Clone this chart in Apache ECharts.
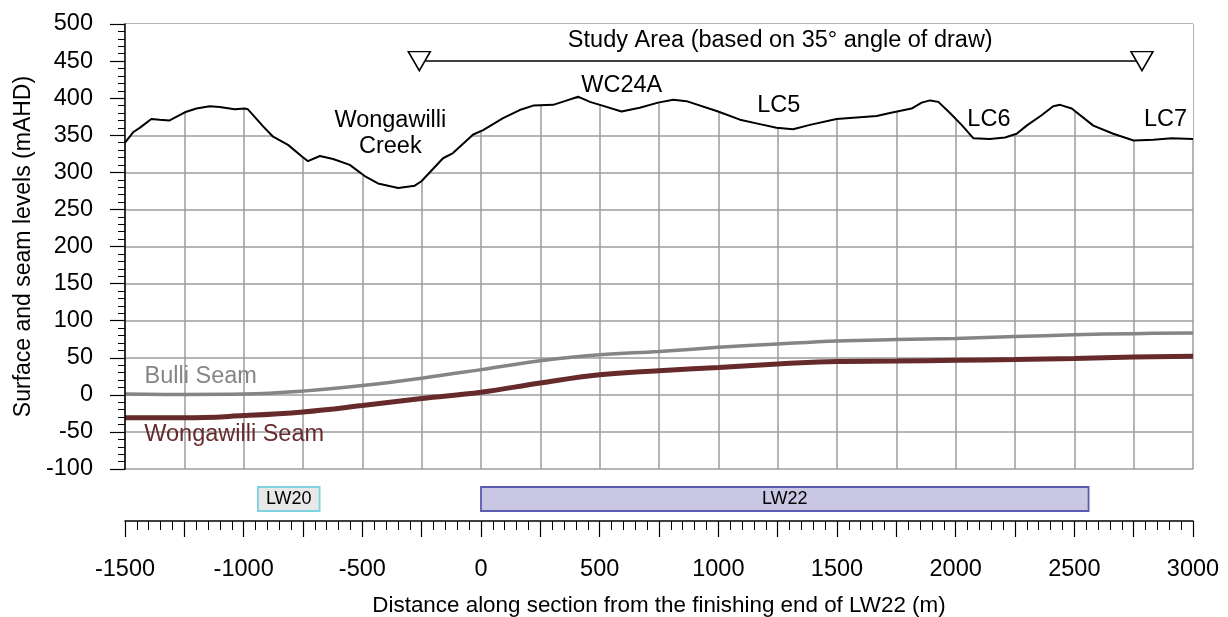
<!DOCTYPE html>
<html>
<head>
<meta charset="utf-8">
<script src="https://cdn.jsdelivr.net/npm/echarts@6/dist/echarts.min.js"></script>
<style>
  html, body { margin: 0; padding: 0; background: #fff; }
  #chart { width: 1228px; height: 617px; }
</style>
</head>
<body>
<div id="chart"></div>
<script>
// Surface profile along the section (distance in m, level in mAHD)
const terrainDist = [-1500, -1466, -1438, -1389, -1354, -1312, -1248, -1199, -1143, -1101, -1038, -996, -982,
  -918, -876, -813, -757, -729, -679, -623, -553, -490, -434, -349, -279, -251, -160, -118, -33, 9, 93, 163,
  220, 304, 353, 409, 459, 501, 592, 669, 746, 810, 866, 999, 1091, 1175, 1245, 1315, 1386, 1498, 1667, 1723,
  1814, 1857, 1892, 1927, 1976, 2025, 2074, 2144, 2208, 2257, 2299, 2362, 2411, 2440, 2489, 2580, 2664, 2750,
  2833, 2910, 3000];
const terrainLevel = [340, 354, 360, 372, 371, 370, 381, 386, 389, 388, 385, 386, 385,
  362, 348, 337, 322, 315, 322, 318, 310, 295, 285, 279, 282, 288, 319, 326, 351, 357, 373, 384,
  390, 391, 396, 402, 395, 391, 382, 387, 394, 398, 396, 382, 371, 365, 360, 358, 364, 372, 376, 380,
  386, 394, 397, 395, 380, 364, 346, 345, 347, 352, 363, 377, 389, 391, 386, 363, 352, 343,
  344, 346, 345];

// Seam floor levels
const seamDist = [-1500, -1250, -1000, -750, -500, -250, 0, 250, 500, 750, 1000, 1250, 1500, 1750, 2000, 2250, 2500, 2750, 3000];
const bulliLevel = [1, 0.5, 1, 5, 12.5, 22.5, 34, 46, 54, 58.5, 64, 68.5, 72.5, 74.5, 76, 78.5, 81, 82.5, 83.5];
const wongawilliLevel = [-31, -31, -28, -23, -14.5, -5, 3.5, 16, 27, 32.5, 37, 41.5, 45, 45.5, 46.5, 47.5, 49, 51, 52];

// Study area limits (35 degree angle of draw) and its level on the chart
const studyAreaDist = [-260, 2785];
const studyAreaLevel = 450;

// Longwall panels: [start, end, name]
const panels = [[-940, -680, 'LW20'], [0, 2560, 'LW22']];

// Feature labels: [distance, level, text]
const featureLabels = [
  [-382, 353, 'Wongawilli\nCreek'],
  [593, 417, 'WC24A'],
  [1255, 389.5, 'LC5'],
  [2140, 371.5, 'LC6'],
  [2884, 371.5, 'LC7'],
  [1261, 478, 'Study Area (based on 35° angle of draw)']
];
const seamLabels = [
  [-1181, 25, 'Bulli Seam'],
  [-1040, -53.5, 'Wongawilli Seam']
];

const zip = (xs, ys) => xs.map((x, i) => [x, ys[i]]);
const FONT = "'Liberation Sans', Arial, sans-serif";

const panelStyles = {
  LW20: { fill: '#e8e8e8', stroke: '#7fd2df' },
  LW22: { fill: '#c9c7e4', stroke: '#5a5bb0' }
};
const seamColors = { 'Bulli Seam': '#858585', 'Wongawilli Seam': '#662a2a' };

const chart = echarts.init(document.getElementById('chart'), null, { renderer: 'canvas' });

chart.setOption({
  animation: false,
  backgroundColor: '#fff',
  textStyle: { fontFamily: FONT },
  grid: [
    { left: 125, top: 24, width: 1068, height: 445, outerBoundsMode: 'none', containLabel: false },
    { left: 125, top: 487, width: 1068, height: 34, outerBoundsMode: 'none', containLabel: false }
  ],
  xAxis: [
    { // vertical grid lines
      gridIndex: 0, type: 'value', min: -1500, max: 3000, interval: 250, z: 0,
      axisLine: { show: false }, axisTick: { show: false }, axisLabel: { show: false },
      splitLine: { show: true, lineStyle: { color: '#9c9c9c', width: 1.5 } }
    },
    { // distance scale under the panels
      gridIndex: 1, type: 'value', min: -1500, max: 3000, interval: 250, position: 'bottom',
      axisLine: { show: true, lineStyle: { color: '#000', width: 1.5 } },
      axisTick: { show: true, length: 16, lineStyle: { color: '#000', width: 1.2 } },
      minorTick: { show: true, splitNumber: 5, length: 9, lineStyle: { color: '#000', width: 1 } },
      splitLine: { show: false },
      axisLabel: {
        color: '#000', fontSize: 23.5, fontFamily: FONT, margin: 37,
        formatter: v => (v % 500 === 0 ? String(v) : '')
      },
      name: 'Distance along section from the finishing end of LW22 (m)',
      nameLocation: 'middle', nameGap: 74,
      nameTextStyle: { color: '#000', fontSize: 22.4, fontFamily: FONT }
    }
  ],
  yAxis: [
    { // horizontal grid lines
      gridIndex: 0, type: 'value', min: -100, max: 500, interval: 50, z: 0,
      axisLine: { show: false }, axisTick: { show: false }, axisLabel: { show: false },
      splitLine: { show: true, lineStyle: { color: '#9c9c9c', width: 1.5 } }
    },
    { // level axis with ticks and labels, kept above the surface mask
      gridIndex: 0, type: 'value', position: 'left', offset: 0,
      min: -100, max: 500, interval: 50, z: 10,
      axisLine: { show: true, onZero: false, lineStyle: { color: '#000', width: 1.5 } },
      axisTick: { show: true, length: 15, lineStyle: { color: '#000', width: 1.2 } },
      minorTick: { show: true, splitNumber: 5, length: 7, lineStyle: { color: '#000', width: 1 } },
      splitLine: { show: false },
      axisLabel: { color: '#000', fontSize: 23.5, fontFamily: FONT, margin: 32 },
      name: 'Surface and seam levels (mAHD)',
      nameLocation: 'middle', nameGap: 84,
      nameTextStyle: { color: '#000', fontSize: 23, fontFamily: FONT }
    },
    { gridIndex: 1, type: 'value', min: 0, max: 1, show: false }
  ],
  series: [
    { // ground surface; white fill above it hides the grid
      name: 'Surface', type: 'line', xAxisIndex: 0, yAxisIndex: 0,
      data: zip(terrainDist, terrainLevel),
      showSymbol: false, symbol: 'none', smooth: false,
      lineStyle: { color: '#000', width: 2 },
      areaStyle: { color: '#fff', opacity: 1, origin: 'end' },
      z: 2
    },
    {
      name: 'Bulli Seam', type: 'line', xAxisIndex: 0, yAxisIndex: 0,
      data: zip(seamDist, bulliLevel), symbol: 'none', smooth: 0.4,
      lineStyle: { color: seamColors['Bulli Seam'], width: 3.5 }, z: 3
    },
    {
      name: 'Wongawilli Seam', type: 'line', xAxisIndex: 0, yAxisIndex: 0,
      data: zip(seamDist, wongawilliLevel), symbol: 'none', smooth: 0.4,
      lineStyle: { color: seamColors['Wongawilli Seam'], width: 5 }, z: 3
    },
    { // study area extent with end markers
      name: 'Study Area', type: 'line', xAxisIndex: 0, yAxisIndex: 0,
      data: studyAreaDist.map(d => [d, studyAreaLevel]),
      symbol: 'triangle', symbolRotate: 180, symbolSize: [22, 19], showSymbol: true,
      itemStyle: { color: '#fff', borderColor: '#000', borderWidth: 1.5 },
      lineStyle: { color: '#000', width: 1.5 }, z: 4
    },
    { // feature names
      type: 'scatter', xAxisIndex: 0, yAxisIndex: 0, z: 5,
      data: featureLabels.map(f => ({ value: [f[0], f[1]], name: f[2] })),
      symbolSize: 0, itemStyle: { color: '#000' },
      label: {
        show: true, position: 'inside', formatter: p => p.name,
        color: '#000', opacity: 1, fontSize: 23.5, fontFamily: FONT, lineHeight: 26, align: 'center',
        textBorderWidth: 0
      }
    },
    { // seam names
      type: 'scatter', xAxisIndex: 0, yAxisIndex: 0, z: 5,
      data: seamLabels.map(f => ({
        value: [f[0], f[1]], name: f[2],
        label: { color: seamColors[f[2]] }
      })),
      symbolSize: 0, itemStyle: { color: '#000' },
      label: {
        show: true, position: 'inside', formatter: p => p.name, opacity: 1,
        fontSize: 23.5, fontFamily: FONT, align: 'center', textBorderWidth: 0
      }
    },
    { // longwall panels
      type: 'custom', xAxisIndex: 1, yAxisIndex: 2, z: 3,
      data: panels,
      renderItem: (params, api) => {
        const x0 = api.coord([api.value(0), 0])[0];
        const x1 = api.coord([api.value(1), 0])[0];
        const base = api.coord([0, 0])[1];
        const name = panels[params.dataIndex][2];
        const st = panelStyles[name];
        return {
          type: 'rect',
          shape: { x: x0, y: base - 34, width: x1 - x0, height: 24 },
          style: { fill: st.fill, stroke: st.stroke, lineWidth: 1.8 },
          textContent: {
            style: { text: name, fill: '#000', fontSize: 18, fontFamily: FONT }
          },
          textConfig: { position: 'inside' }
        };
      }
    }
  ]
});
</script>
</body>
</html>
